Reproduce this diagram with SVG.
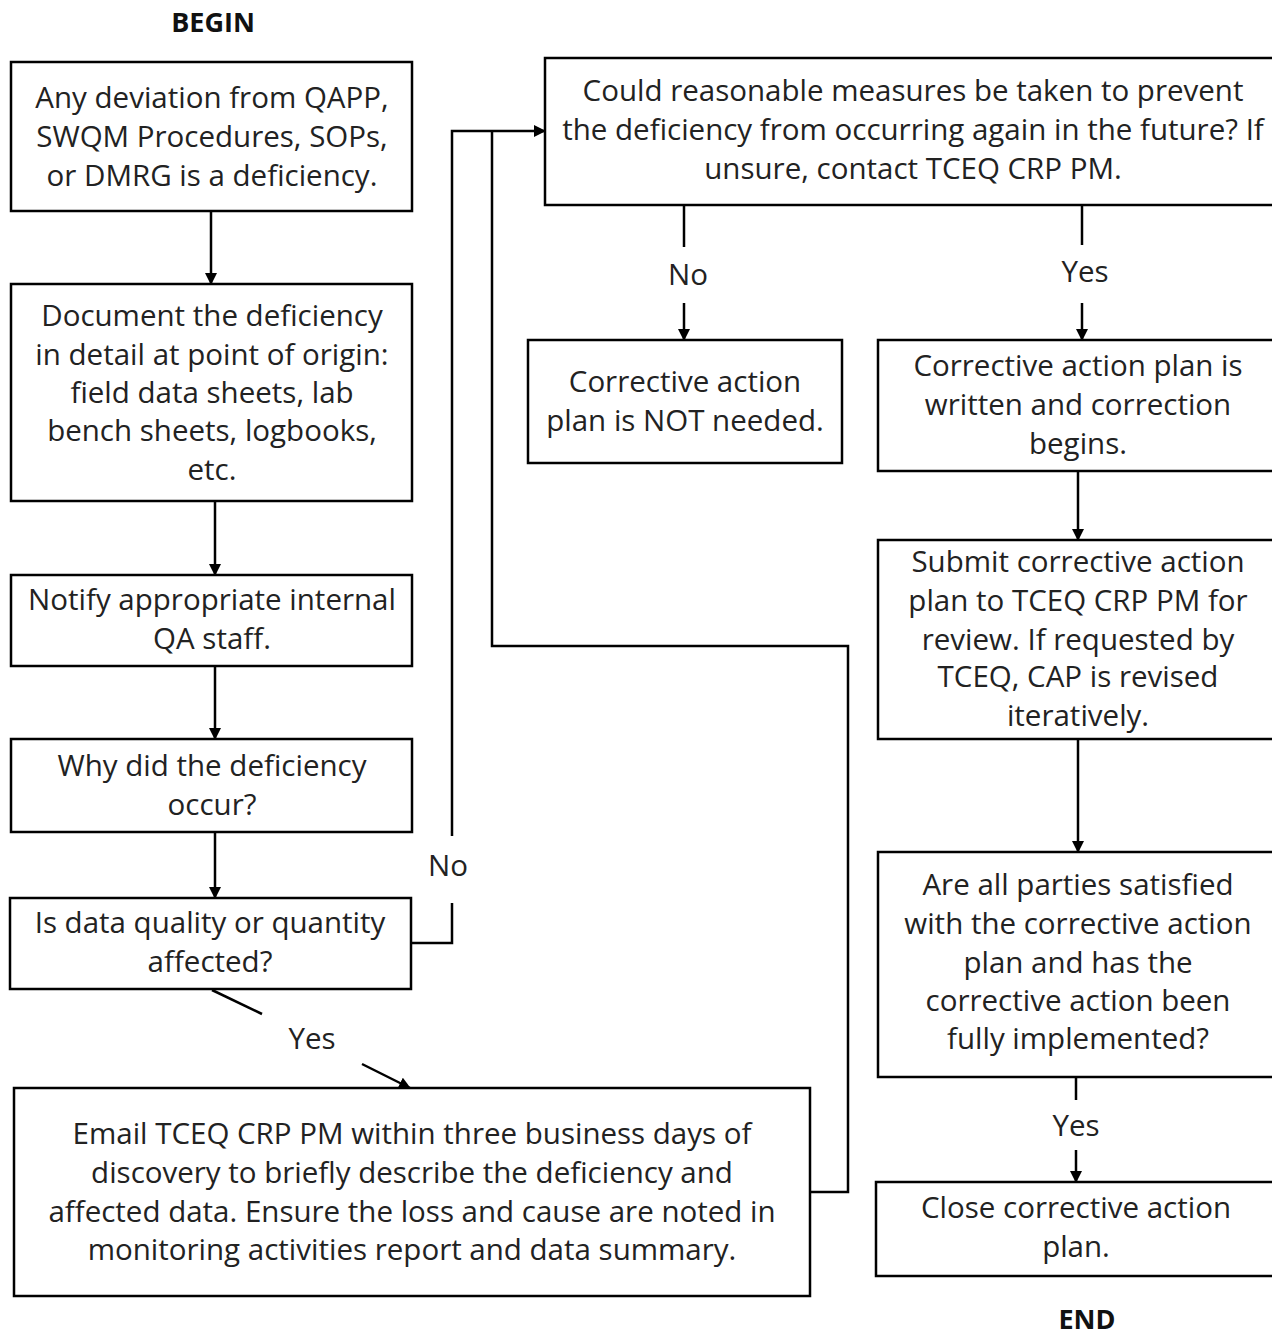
<svg xmlns="http://www.w3.org/2000/svg" width="1272" height="1336" viewBox="0 0 1272 1336">
<style>
.box{fill:#fff;stroke:#000;stroke-width:2.5}
.t{font-family:"Open Sans","Liberation Sans",Arial,sans-serif;font-size:29.5px;fill:#222;text-anchor:middle}
.h{font-family:"Open Sans","Liberation Sans",sans-serif;font-size:27px;font-weight:bold;fill:#111;text-anchor:middle}
.c{fill:none;stroke:#000;stroke-width:2.5}
</style>
<defs>
<marker id="ar" markerWidth="12" markerHeight="12" refX="11" refY="6" orient="auto" markerUnits="userSpaceOnUse" viewBox="0 0 12 12">
<path d="M0,0 L12,6 L0,12 Z" fill="#000"/>
</marker>
</defs>
<rect width="1272" height="1336" fill="#fff"/>
<text class="h" x="213" y="32">BEGIN</text>
<text class="h" x="1087" y="1329">END</text>
<g id="connectors">
<path class="c" d="M211,211 V284" marker-end="url(#ar)"/>
<path class="c" d="M215,501 V575" marker-end="url(#ar)"/>
<path class="c" d="M215,666 V739" marker-end="url(#ar)"/>
<path class="c" d="M215,832 V898" marker-end="url(#ar)"/>
<path class="c" d="M411,943 H452 V903"/>
<path class="c" d="M452,836 V131 H545" marker-end="url(#ar)"/>
<path class="c" d="M810,1192 H848 V646 H492 V131"/>
<path class="c" d="M212,990 L262,1014"/>
<path class="c" d="M362,1064 L410,1088" marker-end="url(#ar)"/>
<path class="c" d="M684,205 V247"/>
<path class="c" d="M684,303 V340" marker-end="url(#ar)"/>
<path class="c" d="M1082,205 V245"/>
<path class="c" d="M1082,303 V340" marker-end="url(#ar)"/>
<path class="c" d="M1078,471 V540" marker-end="url(#ar)"/>
<path class="c" d="M1078,739 V852" marker-end="url(#ar)"/>
<path class="c" d="M1076,1077 V1100"/>
<path class="c" d="M1076,1150 V1182" marker-end="url(#ar)"/>
<text class="t" x="448" y="876">No</text>
<text class="t" x="312" y="1049">Yes</text>
<text class="t" x="688" y="285">No</text>
<text class="t" x="1085" y="282">Yes</text>
<text class="t" x="1076" y="1136">Yes</text>
</g>
<g id="n1"><rect class="box" x="11" y="62" width="401" height="149"/>
<text class="t" x="212" y="108">Any deviation from QAPP,</text>
<text class="t" x="212" y="147">SWQM Procedures, SOPs,</text>
<text class="t" x="212" y="186">or DMRG is a deficiency.</text></g>
<g id="n2"><rect class="box" x="11" y="284" width="401" height="217"/>
<text class="t" x="212" y="326">Document the deficiency</text>
<text class="t" x="212" y="365">in detail at point of origin:</text>
<text class="t" x="212" y="403">field data sheets, lab</text>
<text class="t" x="212" y="441">bench sheets, logbooks,</text>
<text class="t" x="212" y="480">etc.</text></g>
<g id="n3"><rect class="box" x="11" y="575" width="401" height="91"/>
<text class="t" x="212" y="610">Notify appropriate internal</text>
<text class="t" x="212" y="649">QA staff.</text></g>
<g id="n4"><rect class="box" x="11" y="739" width="401" height="93"/>
<text class="t" x="212" y="776">Why did the deficiency</text>
<text class="t" x="212" y="815">occur?</text></g>
<g id="n5"><rect class="box" x="10" y="898" width="401" height="91"/>
<text class="t" x="210" y="933">Is data quality or quantity</text>
<text class="t" x="210" y="972">affected?</text></g>
<g id="n6"><rect class="box" x="14" y="1088" width="796" height="208"/>
<text class="t" x="412" y="1144">Email TCEQ CRP PM within three business days of</text>
<text class="t" x="412" y="1183">discovery to briefly describe the deficiency and</text>
<text class="t" x="412" y="1222">affected data. Ensure the loss and cause are noted in</text>
<text class="t" x="412" y="1260">monitoring activities report and data summary.</text></g>
<g id="n7"><rect class="box" x="545" y="58" width="740" height="147"/>
<text class="t" x="913" y="101">Could reasonable measures be taken to prevent</text>
<text class="t" x="913" y="140">the deficiency from occurring again in the future? If</text>
<text class="t" x="913" y="179">unsure, contact TCEQ CRP PM.</text></g>
<g id="n8"><rect class="box" x="528" y="340" width="314" height="123"/>
<text class="t" x="685" y="392">Corrective action</text>
<text class="t" x="685" y="431">plan is NOT needed.</text></g>
<g id="n9"><rect class="box" x="878" y="340" width="407" height="131"/>
<text class="t" x="1078" y="376">Corrective action plan is</text>
<text class="t" x="1078" y="415">written and correction</text>
<text class="t" x="1078" y="454">begins.</text></g>
<g id="n10"><rect class="box" x="878" y="540" width="407" height="199"/>
<text class="t" x="1078" y="572">Submit corrective action</text>
<text class="t" x="1078" y="611">plan to TCEQ CRP PM for</text>
<text class="t" x="1078" y="650">review. If requested by</text>
<text class="t" x="1078" y="687">TCEQ, CAP is revised</text>
<text class="t" x="1078" y="726">iteratively.</text></g>
<g id="n11"><rect class="box" x="878" y="852" width="407" height="225"/>
<text class="t" x="1078" y="895">Are all parties satisfied</text>
<text class="t" x="1078" y="934">with the corrective action</text>
<text class="t" x="1078" y="973">plan and has the</text>
<text class="t" x="1078" y="1011">corrective action been</text>
<text class="t" x="1078" y="1049">fully implemented?</text></g>
<g id="n12"><rect class="box" x="876" y="1182" width="409" height="94"/>
<text class="t" x="1076" y="1218">Close corrective action</text>
<text class="t" x="1076" y="1257">plan.</text></g>
</svg>
